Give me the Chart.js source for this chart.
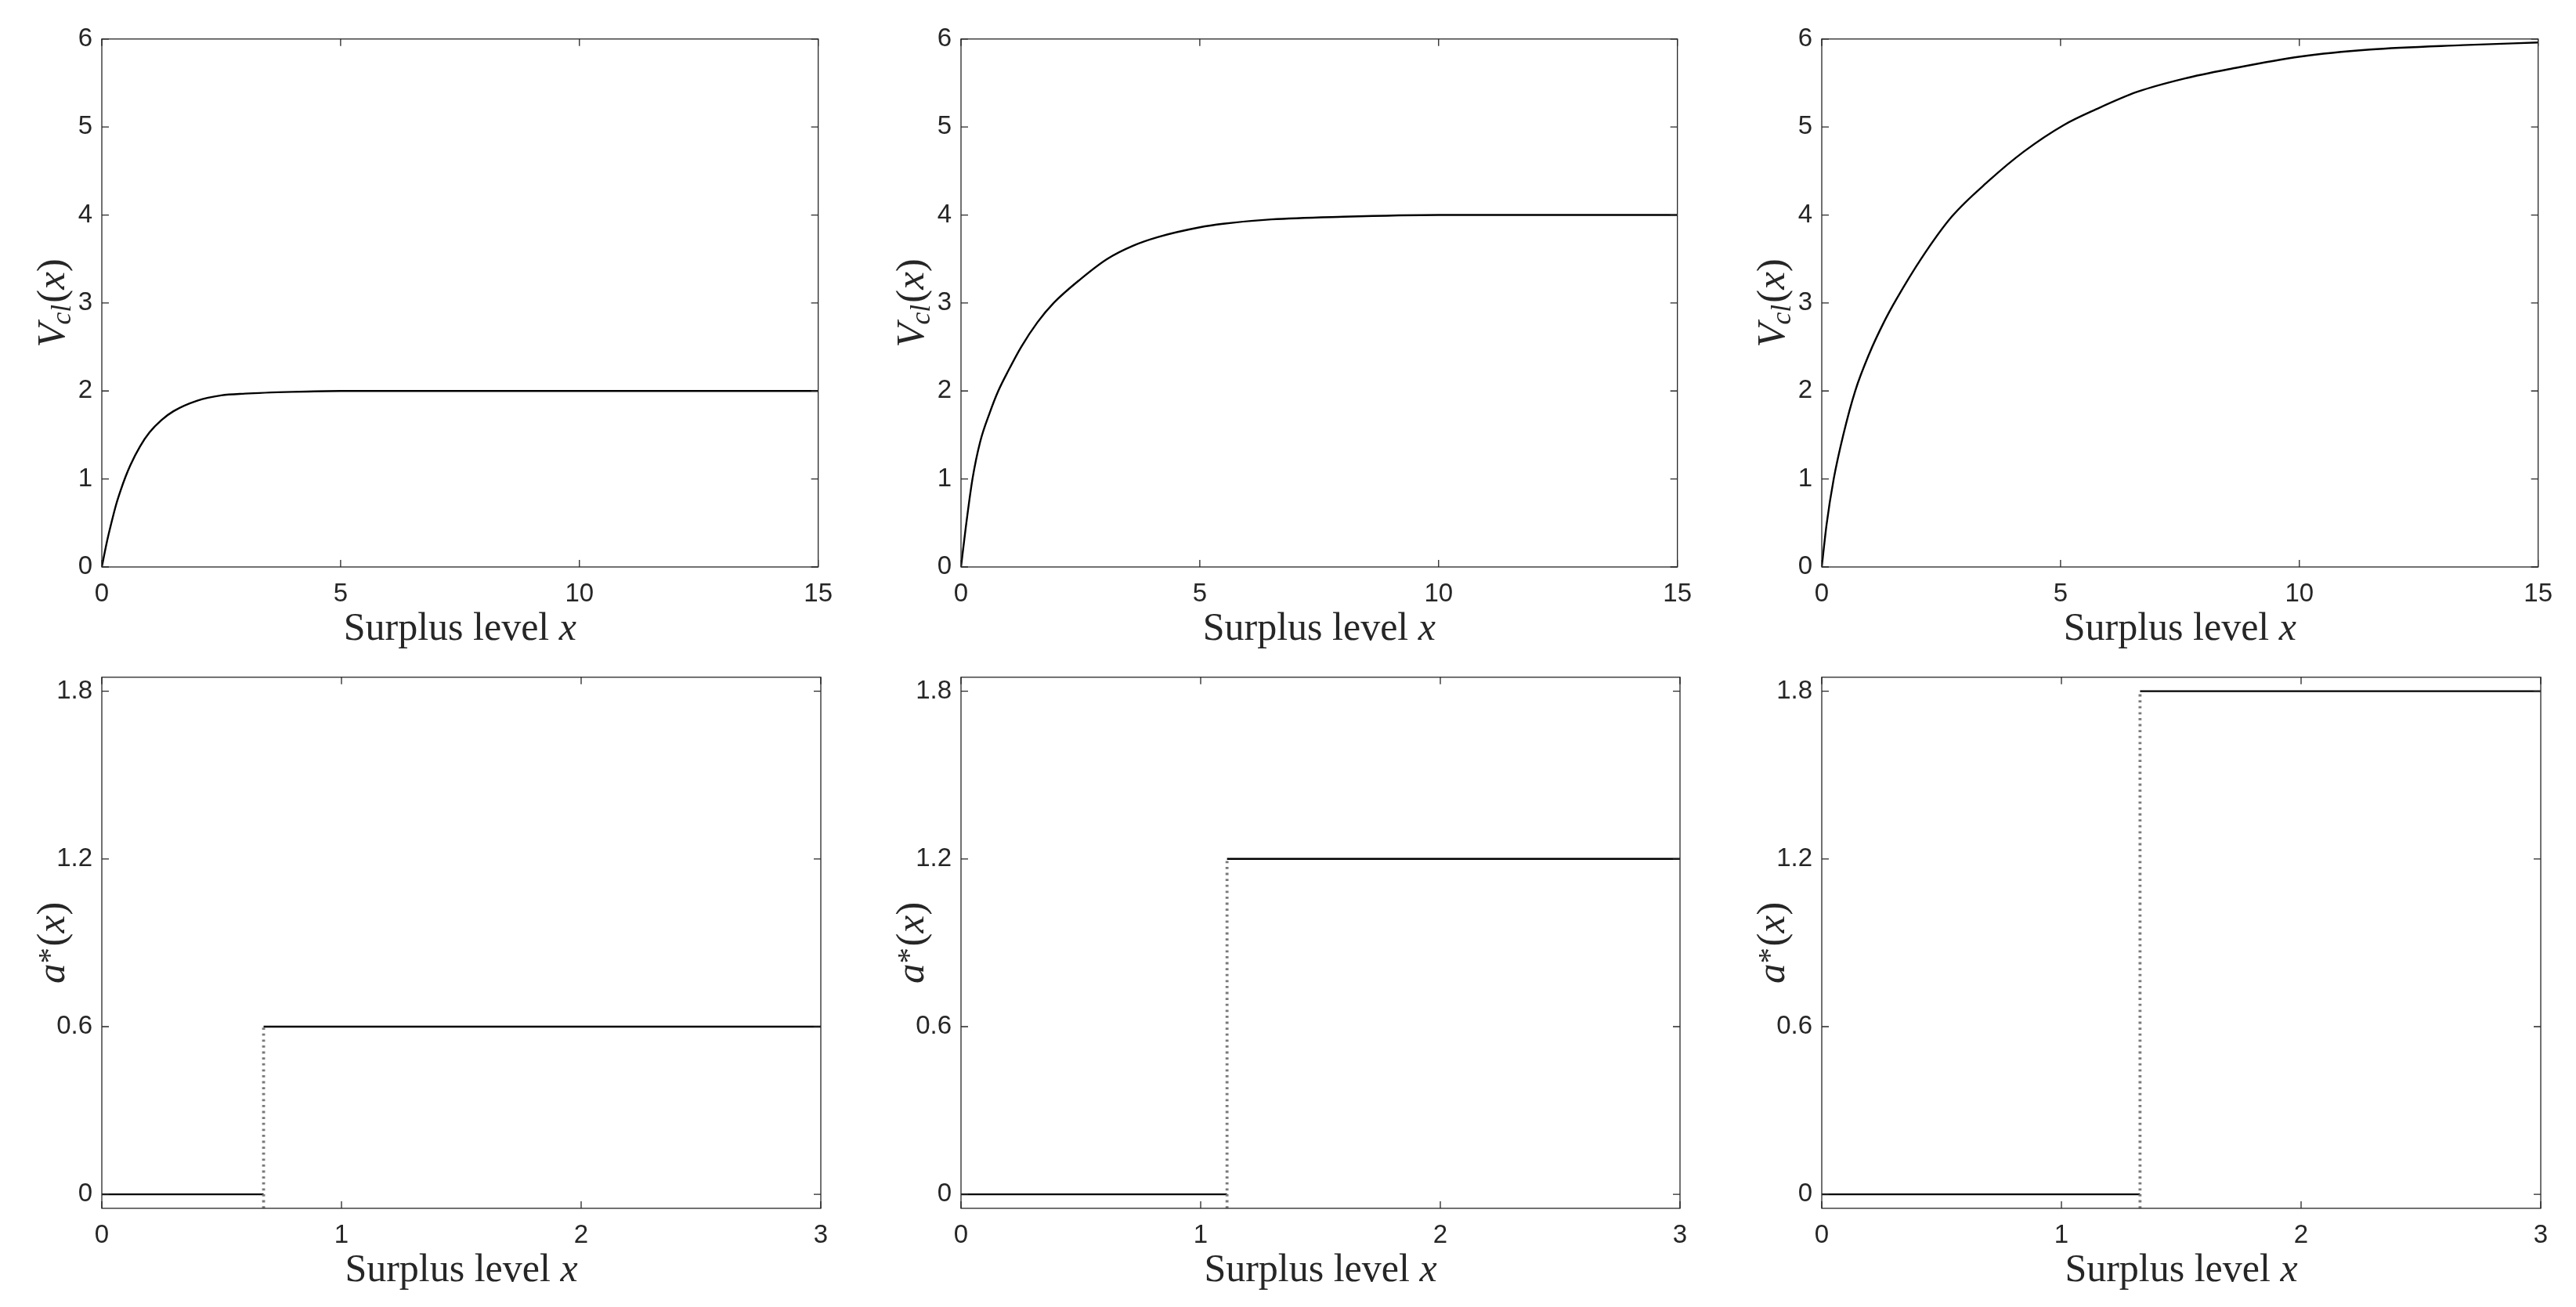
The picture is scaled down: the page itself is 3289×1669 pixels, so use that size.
<!DOCTYPE html>
<html>
<head>
<meta charset="utf-8">
<script src="https://cdn.jsdelivr.net/npm/chart.js@4.4.0/dist/chart.umd.min.js"></script>
<style>
html, body { margin: 0; padding: 0; background: #fff; }
#wrap { position: relative; width: 3289px; height: 1669px; overflow: hidden; background: #fff; }
#wrap canvas { position: absolute; }
</style>
</head>
<body>
<div id="wrap"></div>
<script>
// value function V_cl(x), one curve per column
const vX1 = [0, 0.1, 0.2, 0.3, 0.4, 0.5, 0.6, 0.8, 1.0, 1.25, 1.5, 2.0, 2.5, 3.0, 4.0, 5.0, 7, 10, 15];
const vY1 = [0, 0.27, 0.5, 0.71, 0.88, 1.03, 1.16, 1.37, 1.53, 1.67, 1.77, 1.89, 1.95, 1.97, 1.99, 2.0, 2.0, 2.0, 2.0];

const vX2 = [0, 0.1, 0.24, 0.4, 0.6, 0.78, 1.0, 1.26, 1.6, 1.94, 2.5, 3.06, 3.6, 4.13, 5.0, 5.49, 6.5, 8, 10, 15];
const vY2 = [0, 0.45, 1.0, 1.42, 1.75, 2.0, 2.24, 2.5, 2.78, 3.0, 3.27, 3.5, 3.65, 3.75, 3.86, 3.9, 3.95, 3.98, 4.0, 4.0];

const vX3 = [0, 0.1, 0.25, 0.45, 0.7, 1.0, 1.3, 1.56, 2.09, 2.72, 3.5, 4.23, 5.06, 5.74, 6.61, 7.59, 8.56, 10.02, 11.48, 13.42, 15];
const vY3 = [0, 0.48, 1.0, 1.5, 2.0, 2.43, 2.78, 3.04, 3.51, 3.98, 4.39, 4.72, 5.02, 5.2, 5.4, 5.55, 5.66, 5.8, 5.88, 5.93, 5.96];

// optimal control a*(x): switch point and upper level per column
const switchAt = [0.675, 1.11, 1.328];
const upperLevel = [0.6, 1.2, 1.8];
const lowerLevel = 0;

// axes
const topXTicks = [0, 5, 10, 15];
const topYTicks = [0, 1, 2, 3, 4, 5, 6];
const botXTicks = [0, 1, 2, 3];
const botYTicks = [0, 0.6, 1.2, 1.8];
const botYLabels = ['0', '0.6', '1.2', '1.8'];
const topRange = { xMin: 0, xMax: 15, yMin: 0, yMax: 6 };
const botRange = { xMin: 0, xMax: 3, yMin: -0.05, yMax: 1.85 };

// layout
const colLeft = [130, 1227, 2326];
const plotW = 918;
const rowTop = [38, 853];
const plotH = [686, 690];
const L = 130, T = 20, R = 30, B = 120;
const TICK = 9;
const axisColor = '#262626';

const serif = '"Liberation Serif", "Times New Roman", serif';

function drawRuns(ctx, runs, cx, baseY, size) {
  const parts = runs.map(r => {
    const s = size * (r.scale || 1);
    const font = (r.it ? 'italic ' : '') + s + 'px ' + serif;
    ctx.font = font;
    return { t: r.t, font, w: ctx.measureText(r.t).width + (r.gap || 0) * size, dy: (r.dy || 0) * size };
  });
  const total = parts.reduce((a, p) => a + p.w, 0);
  let x = cx - total / 2;
  ctx.textAlign = 'left';
  ctx.textBaseline = 'alphabetic';
  parts.forEach(p => {
    ctx.font = p.font;
    ctx.fillText(p.t, x, baseY + p.dy);
    x += p.w;
  });
}

const framePlugin = {
  id: 'frame',
  afterDraw(chart, args, opts) {
    const { ctx, chartArea: a, scales: { x, y } } = chart;
    ctx.save();
    ctx.strokeStyle = axisColor;
    ctx.lineWidth = 1.3;
    ctx.strokeRect(a.left, a.top, a.right - a.left, a.bottom - a.top);
    ctx.beginPath();
    x.ticks.forEach(t => {
      const px = x.getPixelForValue(t.value);
      ctx.moveTo(px, a.bottom); ctx.lineTo(px, a.bottom - TICK);
      ctx.moveTo(px, a.top); ctx.lineTo(px, a.top + TICK);
    });
    y.ticks.forEach(t => {
      const py = y.getPixelForValue(t.value);
      ctx.moveTo(a.left, py); ctx.lineTo(a.left + TICK, py);
      ctx.moveTo(a.right, py); ctx.lineTo(a.right - TICK, py);
    });
    ctx.stroke();

    ctx.fillStyle = axisColor;
    drawRuns(ctx, opts.xTitle, (a.left + a.right) / 2, a.bottom + 93, 50);

    ctx.translate(a.left - 62, (a.top + a.bottom) / 2);
    ctx.rotate(-Math.PI / 2);
    drawRuns(ctx, opts.yTitle, 0, 14, 51);
    ctx.restore();
  }
};

const xTitle = [{ t: 'Surplus level ' }, { t: 'x', it: true }];
const vTitle = [
  { t: 'V', it: true, gap: -0.04 },
  { t: 'cl', it: true, scale: 0.7, dy: 0.15, gap: 0.04 },
  { t: '(' }, { t: 'x', it: true }, { t: ')' }
];
const aTitle = [
  { t: 'a', it: true },
  { t: '*', scale: 0.8, dy: -0.12, gap: 0.03 },
  { t: '(' }, { t: 'x', it: true }, { t: ')' }
];

function makeChart(col, row, datasets, range, xTicks, yTicks, yLabels, yTitle) {
  const canvas = document.createElement('canvas');
  const w = L + plotW + R;
  const h = T + plotH[row] + B;
  canvas.width = w; canvas.height = h;
  canvas.style.width = w + 'px'; canvas.style.height = h + 'px';
  canvas.style.left = (colLeft[col] - L) + 'px';
  canvas.style.top = (rowTop[row] - T) + 'px';
  document.getElementById('wrap').appendChild(canvas);

  const tickFont = { family: '"Liberation Sans", Arial, sans-serif', size: 33 };
  new Chart(canvas.getContext('2d'), {
    type: 'scatter',
    data: { datasets },
    options: {
      responsive: false,
      animation: false,
      devicePixelRatio: 1,
      layout: { padding: { left: 0, top: T, right: R, bottom: 0 } },
      plugins: {
        legend: { display: false },
        tooltip: { enabled: false },
        frame: { xTitle, yTitle }
      },
      scales: {
        x: {
          type: 'linear', min: range.xMin, max: range.xMax,
          afterFit: s => { s.height = B; },
          afterBuildTicks: s => { s.ticks = xTicks.map(v => ({ value: v })); },
          grid: { display: false, drawTicks: false },
          border: { display: false },
          ticks: { font: tickFont, color: axisColor, padding: 15, maxRotation: 0, autoSkip: false,
                   callback: v => String(v) }
        },
        y: {
          type: 'linear', min: range.yMin, max: range.yMax,
          afterFit: s => { s.width = L; },
          afterBuildTicks: s => { s.ticks = yTicks.map(v => ({ value: v })); },
          grid: { display: false, drawTicks: false },
          border: { display: false },
          ticks: { font: tickFont, color: axisColor, padding: 12, autoSkip: false,
                   callback: (v, i) => yLabels[i] }
        }
      }
    },
    plugins: [framePlugin]
  });
}

function curve(xs, ys) {
  return {
    data: xs.map((x, i) => ({ x, y: ys[i] })),
    showLine: true, borderColor: '#000', borderWidth: 2.4,
    pointRadius: 0, cubicInterpolationMode: 'monotone', fill: false
  };
}

const topCurves = [[vX1, vY1], [vX2, vY2], [vX3, vY3]];
topCurves.forEach(([xs, ys], c) => {
  makeChart(c, 0, [curve(xs, ys)], topRange, topXTicks, topYTicks, topYTicks.map(String), vTitle);
});

switchAt.forEach((s, c) => {
  const a = upperLevel[c];
  const ds = [
    {
      data: [{ x: s, y: botRange.yMin }, { x: s, y: a }],
      showLine: true, borderColor: '#7a7a7a', borderWidth: 3.8, borderDash: [2.8, 4.8],
      borderCapStyle: 'butt', pointRadius: 0
    },
    {
      data: [{ x: botRange.xMin, y: lowerLevel }, { x: s, y: lowerLevel }],
      showLine: true, borderColor: '#000', borderWidth: 2.4, pointRadius: 0
    },
    {
      data: [{ x: s, y: a }, { x: botRange.xMax, y: a }],
      showLine: true, borderColor: '#000', borderWidth: 2.4, pointRadius: 0
    }
  ];
  makeChart(c, 1, ds, botRange, botXTicks, botYTicks, botYLabels, aTitle);
});
</script>
</body>
</html>
